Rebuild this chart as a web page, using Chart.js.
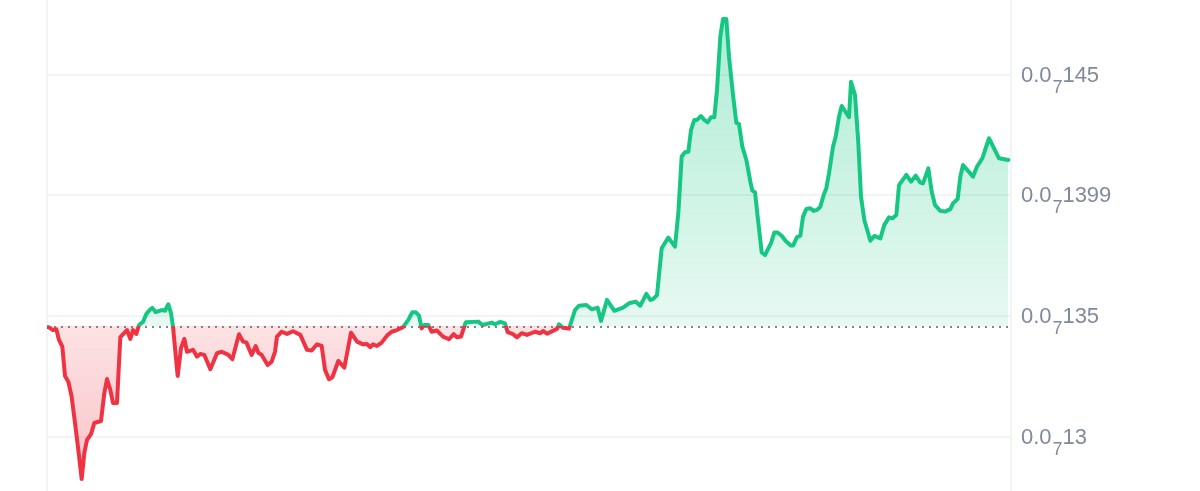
<!DOCTYPE html>
<html>
<head>
<meta charset="utf-8">
<style>
html,body{margin:0;padding:0;background:#fff;overflow:hidden}
#wrap{position:relative;width:1200px;height:491px}
</style>
<script src="https://cdn.jsdelivr.net/npm/chart.js@4"></script>
</head>
<body>
<div id="wrap"><canvas id="c" width="1200" height="491"></canvas></div>
<script>
// price unit: 1e-10; time unit: minutes over about one day
const times = [0,2,9,14,18,23,27,32,37,42,47,52,56,60,66,71,81,86,90,95,99,105,110,120,125,129,134,138,144,149,155,158,163,172,177,182,186,189,196,201,206,210,219,225,230,236,245,255,262,272,278,288,294,299,307,313,317,322,331,337,342,345,352,360,369,380,390,397,405,412,417,423,428,437,446,456,465,474,480,485,489,495,502,510,517,525,534,542,548,553,558,562,566,572,577,585,594,603,610,615,621,628,647,653,667,672,680,687,691,699,705,712,720,732,740,744,750,765,768,774,783,792,798,809,817,826,831,840,851,864,873,883,890,899,905,909,915,922,932,942,947,952,957,962,966,971,975,981,986,991,996,1001,1005,1010,1014,1019,1023,1029,1034,1038,1043,1049,1055,1058,1062,1066,1072,1077,1086,1091,1096,1102,1108,1116,1119,1125,1130,1134,1139,1145,1150,1155,1160,1165,1169,1173,1179,1183,1188,1192,1197,1203,1206,1212,1217,1221,1226,1235,1241,1250,1256,1263,1268,1274,1278,1289,1296,1303,1310,1314,1322,1327,1332,1340,1347,1355,1359,1366,1370,1374,1389,1395,1403,1413,1428,1442];
const prices = [134.56,134.56,134.43,134.46,134.02,133.74,132.53,132.29,131.67,130.58,129.46,128.26,129.34,129.88,130.12,130.58,130.66,131.82,132.40,131.95,131.41,131.41,134.14,134.43,134.06,134.43,134.27,134.64,134.77,135.10,135.29,135.35,135.17,135.26,135.23,135.50,135.13,134.57,132.53,133.68,134.06,133.53,133.61,133.33,133.44,133.40,132.81,133.47,133.53,133.40,133.22,134.26,133.95,133.92,133.40,133.77,133.49,133.40,132.98,133.12,133.53,134.16,134.36,134.27,134.38,134.23,133.61,133.58,133.84,133.77,132.78,132.39,132.47,133.15,132.87,134.32,133.95,133.84,133.85,133.72,133.84,133.77,133.91,134.20,134.36,134.43,134.55,134.85,135.17,135.17,135.03,134.50,134.64,134.64,134.36,134.41,134.16,134.05,134.26,134.13,134.16,134.75,134.78,134.64,134.74,134.67,134.77,134.71,134.34,134.26,134.13,134.30,134.23,134.36,134.30,134.39,134.28,134.48,134.67,134.53,134.49,135.26,135.44,135.47,135.29,135.36,134.81,135.68,135.23,135.36,135.54,135.61,135.44,135.93,135.68,135.71,135.88,137.82,138.26,137.89,139.28,141.62,141.80,141.82,142.72,143.14,143.14,143.30,143.14,143.04,143.25,143.25,144.38,146.59,147.32,147.32,145.76,144.17,143.02,142.97,142.03,141.48,140.58,140.21,140.14,139.13,137.65,137.54,138.03,138.47,138.47,138.34,138.12,137.93,137.93,138.28,138.34,139.13,139.45,139.48,139.37,139.41,139.54,140.03,140.31,140.93,142.03,142.44,143.27,143.72,143.51,143.25,144.72,144.17,142.17,139.96,138.99,138.13,138.33,138.23,138.79,139.10,139.06,139.20,140.44,140.86,140.58,140.83,140.54,140.51,141.13,140.17,139.61,139.37,139.34,139.44,139.68,139.86,140.79,141.27,140.79,141.20,141.55,142.38,141.55,141.48];
const openPrice = 134.56;
const fillBase = 134.60;
const tickValues = [130,135,140.03,145];
const tickPrefix = "0.0";
const tickZeros = "7";
const tickDigits = ["13","135","1399","145"];
const timeMax = 1446, priceMin = 127.76, priceMax = 148.11;
const GREEN = "#16c784", RED = "#ef3342", GRID = "#f2f3f4", TEXT = "#808a9d";
const FONT = "'Liberation Sans',Arial,sans-serif";

function yOf(chart, v){ return chart.scales.y.getPixelForValue(v); }

function strokeGradient(ctx){
  const chart = ctx.chart;
  if(!chart.chartArea || !chart.scales.y) return GREEN;
  const a = chart.chartArea;
  const g = chart.ctx.createLinearGradient(0,a.top,0,a.bottom);
  const s = (yOf(chart,fillBase)-a.top)/(a.bottom-a.top);
  g.addColorStop(0,GREEN); g.addColorStop(s,GREEN);
  g.addColorStop(s,RED); g.addColorStop(1,RED);
  return g;
}
function fillAbove(ctx){
  const chart = ctx.chart;
  if(!chart.chartArea || !chart.scales.y) return "rgba(22,199,132,.2)";
  const g = chart.ctx.createLinearGradient(0,chart.chartArea.top,0,yOf(chart,fillBase));
  g.addColorStop(0,"rgba(22,199,132,.36)");
  g.addColorStop(1,"rgba(22,199,132,.10)");
  return g;
}
function fillBelow(ctx){
  const chart = ctx.chart;
  if(!chart.chartArea || !chart.scales.y) return "rgba(239,51,66,.2)";
  const g = chart.ctx.createLinearGradient(0,yOf(chart,fillBase),0,chart.chartArea.bottom);
  g.addColorStop(0,"rgba(239,51,66,.14)");
  g.addColorStop(1,"rgba(239,51,66,.30)");
  return g;
}

const priceLabels = {
  id:"priceLabels",
  afterDraw(chart){
    const c = chart.ctx, a = chart.chartArea;
    c.save();
    c.fillStyle = TEXT;
    c.textBaseline = "alphabetic";
    c.textAlign = "left";
    tickValues.forEach((v,i)=>{
      const y = yOf(chart,v);
      let x = a.right + 10;
      c.font = "22px "+FONT;
      c.fillText(tickPrefix,x,y+6.7);
      x += c.measureText(tickPrefix).width + 0.8;
      c.font = "18px "+FONT;
      c.fillText(tickZeros,x,y+18);
      x += c.measureText(tickZeros).width;
      c.font = "22px "+FONT;
      c.fillText(tickDigits[i],x,y+6.7);
    });
    c.restore();
  }
};

function noPadding(s){ s.paddingTop=0; s.paddingBottom=0; s.paddingLeft=0; s.paddingRight=0; }

new Chart(document.getElementById("c"),{
  type:"line",
  data:{datasets:[
    {label:"Price",order:1,data:times.map((t,i)=>({x:t,y:prices[i]})),
     borderColor:strokeGradient,borderWidth:4,borderJoinStyle:"round",borderCapStyle:"round",
     pointRadius:0,tension:0,
     fill:{target:{value:fillBase},above:fillAbove,below:fillBelow}},
    {label:"Open",order:2,data:[{x:0,y:openPrice},{x:timeMax,y:openPrice}],
     borderColor:"#808690",borderWidth:2,borderDash:[2,5],pointRadius:0,fill:false,tension:0}
  ]},
  plugins:[priceLabels],
  options:{
    responsive:false,animation:false,events:[],
    layout:{padding:{left:47,right:0,top:0,bottom:0}},
    plugins:{legend:{display:false},tooltip:{enabled:false}},
    scales:{
      x:{type:"linear",min:0,max:timeMax,
         afterBuildTicks(s){s.ticks=[{value:0},{value:timeMax}];},
         afterFit(s){s.height=0;noPadding(s);},
         ticks:{display:false},
         border:{display:false},
         grid:{color:GRID,lineWidth:2,drawTicks:false}},
      y:{type:"linear",position:"right",min:priceMin,max:priceMax,
         afterBuildTicks(s){s.ticks=tickValues.map(v=>({value:v}));},
         afterFit(s){s.width=189;noPadding(s);},
         border:{display:false},
         grid:{color:GRID,lineWidth:2,drawTicks:false},
         ticks:{display:false}}
    }
  }
});
</script>
</body>
</html>
